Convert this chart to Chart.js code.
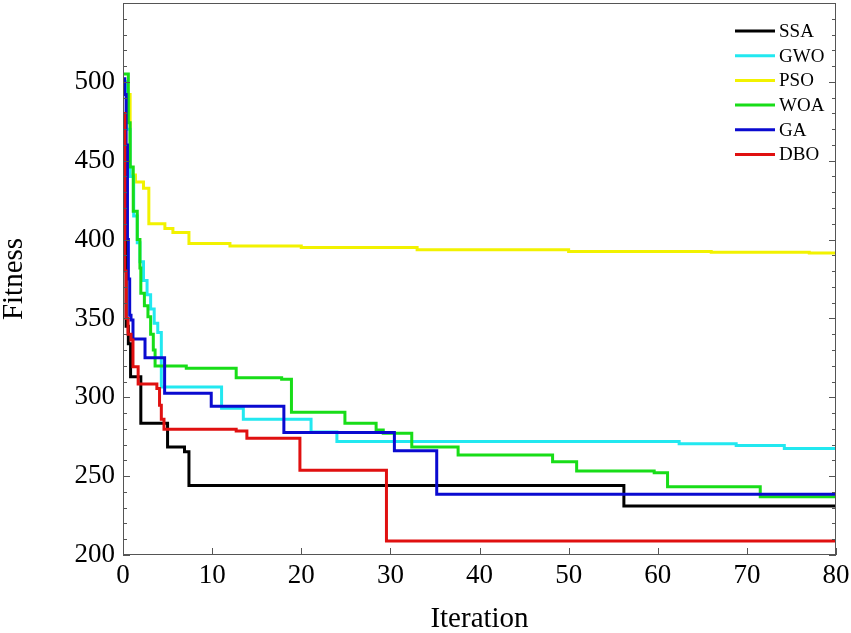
<!DOCTYPE html>
<html>
<head>
<meta charset="utf-8">
<script src="https://cdn.jsdelivr.net/npm/chart.js@4"></script>
<style>
  html, body { margin: 0; padding: 0; background: #fff; }
  #fitness-canvas { display: block; }
</style>
</head>
<body>
<canvas id="fitness-canvas" width="851" height="633" style="width:851px;height:633px"></canvas>
<script>
// iteration (x) where each curve steps to a new value (y)
const ssaX = [0, 0.35, 0.6, 0.85, 2.0, 5.0, 6.9, 7.4, 56.2, 80];
const ssaY = [415, 345, 334, 313, 283.5, 268.5, 265.5, 244, 231, 231];

const gwoX = [0, 0.4, 0.8, 1.2, 1.6, 1.9, 2.3, 2.7, 3.1, 3.5, 3.9, 4.3, 11.06, 13.5, 21.1, 24.0, 62.4, 68.8, 74.2, 80];
const gwoY = [500, 470, 440, 415, 398, 386, 374, 365, 356, 347, 341, 306.5, 293, 286, 278, 272, 270.5, 269.5, 267.5, 267.5];

const psoX = [0, 0.8, 1.4, 2.3, 2.9, 4.7, 5.6, 7.4, 12, 20, 33, 50, 66, 77, 80];
const psoY = [492, 441, 436.5, 432.5, 410, 407, 404.5, 397.5, 396, 395, 393.5, 392.5, 392, 391.5, 391.5];

const woaX = [0, 0.6, 0.8, 1.15, 1.6, 1.9, 2.0, 2.4, 2.8, 3.1, 3.4, 3.6, 7.1, 12.7, 17.8, 18.9, 24.9, 28.4, 29.2, 32.4, 37.6, 48.2, 50.9, 59.6, 61.1, 71.5, 80];
const woaY = [505, 474, 446, 418, 400, 382, 366, 358, 351, 340, 330, 319.8, 318.4, 312.4, 311.4, 290.5, 283.5, 279.3, 277.2, 268.5, 263.4, 259.2, 253.3, 252.2, 243.3, 237, 237];

const gaX = [0, 0.2, 0.35, 0.5, 0.6, 0.75, 0.9, 1.12, 2.47, 4.67, 9.9, 18.05, 30.45, 35.2, 80];
const gaY = [502, 492, 460, 400, 375, 352, 349, 337, 325, 302.5, 294.3, 277.7, 266.1, 238.5, 238.5];

const dboX = [0, 0.2, 0.35, 0.56, 0.9, 1.12, 1.7, 3.8, 4.1, 4.3, 4.6, 12.7, 13.9, 19.85, 29.56, 80];
const dboY = [480, 380, 350, 340, 336.3, 319.4, 308.5, 305.5, 295, 286, 279.8, 278.6, 274, 253.8, 208.8, 208.8];

const xTicks = { min: 0, max: 80, step: 10 };
const yTicks = { min: 200, max: 550, step: 50, minor: 10 };

const FONT = "'Liberation Serif', 'Times New Roman', serif";

function toPoints(xs, ys) {
  return xs.map((x, i) => ({ x: x, y: ys[i] }));
}

function series(label, xs, ys, color, order) {
  return {
    label: label,
    data: toPoints(xs, ys),
    borderColor: color,
    backgroundColor: color,
    borderWidth: 3,
    pointRadius: 0,
    stepped: true,
    fill: false,
    order: order
  };
}

// frame with inward ticks, like the original plot box
const framePlugin = {
  id: 'frame',
  afterDatasetsDraw(chart) {
    const { ctx, chartArea: a, scales } = chart;
    ctx.save();
    ctx.strokeStyle = '#555';
    ctx.lineWidth = 1;
    ctx.strokeRect(a.left + 0.5, a.top + 0.5, a.right - a.left - 1, a.bottom - a.top - 1);
    ctx.beginPath();
    for (let v = yTicks.min; v <= yTicks.max; v += yTicks.minor) {
      const py = Math.round(scales.y.getPixelForValue(v)) + 0.5;
      const len = v % yTicks.step === 0 ? 7 : 4;
      ctx.moveTo(a.left, py); ctx.lineTo(a.left + len, py);
      ctx.moveTo(a.right, py); ctx.lineTo(a.right - len, py);
    }
    for (let v = xTicks.min; v <= xTicks.max; v += xTicks.step) {
      const px = Math.round(scales.x.getPixelForValue(v)) + 0.5;
      ctx.moveTo(px, a.bottom); ctx.lineTo(px, a.bottom - 7);
    }
    ctx.stroke();
    ctx.restore();
  }
};

// legend inside the top right corner, no box
const legendPlugin = {
  id: 'innerLegend',
  afterDraw(chart) {
    const { ctx, chartArea: a } = chart;
    ctx.save();
    ctx.font = '19px ' + FONT;
    ctx.textBaseline = 'middle';
    ctx.textAlign = 'left';
    chart.data.datasets.forEach((ds, i) => {
      const y = a.top + 28 + i * 24.7;
      ctx.strokeStyle = ds.borderColor;
      ctx.lineWidth = 3;
      ctx.beginPath();
      ctx.moveTo(a.right - 101, y);
      ctx.lineTo(a.right - 61, y);
      ctx.stroke();
      ctx.fillStyle = '#000';
      ctx.fillText(ds.label, a.right - 57, y + 1);
    });
    ctx.restore();
  }
};

const ctx = document.getElementById('fitness-canvas').getContext('2d');

new Chart(ctx, {
  type: 'line',
  data: {
    datasets: [
      series('SSA', ssaX, ssaY, '#000000', 2),
      series('GWO', gwoX, gwoY, '#22e8f0', 4),
      series('PSO', psoX, psoY, '#f2f200', 5),
      series('WOA', woaX, woaY, '#18dd18', 3),
      series('GA', gaX, gaY, '#0a0ad0', 1),
      series('DBO', dboX, dboY, '#e01010', 0)
    ]
  },
  options: {
    responsive: false,
    animation: false,
    layout: { padding: { top: 3, right: 15, left: 0, bottom: 0 } },
    plugins: {
      legend: { display: false },
      tooltip: { enabled: false }
    },
    scales: {
      x: {
        type: 'linear',
        min: xTicks.min,
        max: xTicks.max,
        grid: { display: false, drawTicks: false },
        border: { display: false },
        ticks: {
          stepSize: xTicks.step,
          color: '#000',
          padding: 5,
          maxRotation: 0,
          font: { family: FONT, size: 27 }
        },
        title: {
          display: true,
          text: 'Iteration',
          color: '#000',
          padding: { top: 0, bottom: -1 },
          font: { family: FONT, size: 29, lineHeight: 1 }
        },
        afterFit(scale) {
          scale.height = 78;
          scale.paddingLeft = 0;
          scale.paddingRight = 0;
        }
      },
      y: {
        type: 'linear',
        min: yTicks.min,
        max: yTicks.max,
        grid: { display: false, drawTicks: false },
        border: { display: false },
        ticks: {
          stepSize: yTicks.step,
          color: '#000',
          padding: 8,
          font: { family: FONT, size: 27 },
          callback: (v) => (v === yTicks.max ? '' : v)
        },
        title: {
          display: true,
          text: 'Fitness',
          color: '#000',
          padding: { top: 0, bottom: 0 },
          font: { family: FONT, size: 29, lineHeight: 1 }
        },
        afterFit(scale) {
          scale.width = 123;
          scale.paddingTop = 0;
          scale.paddingBottom = 0;
        }
      }
    }
  },
  plugins: [framePlugin, legendPlugin]
});
</script>
</body>
</html>
